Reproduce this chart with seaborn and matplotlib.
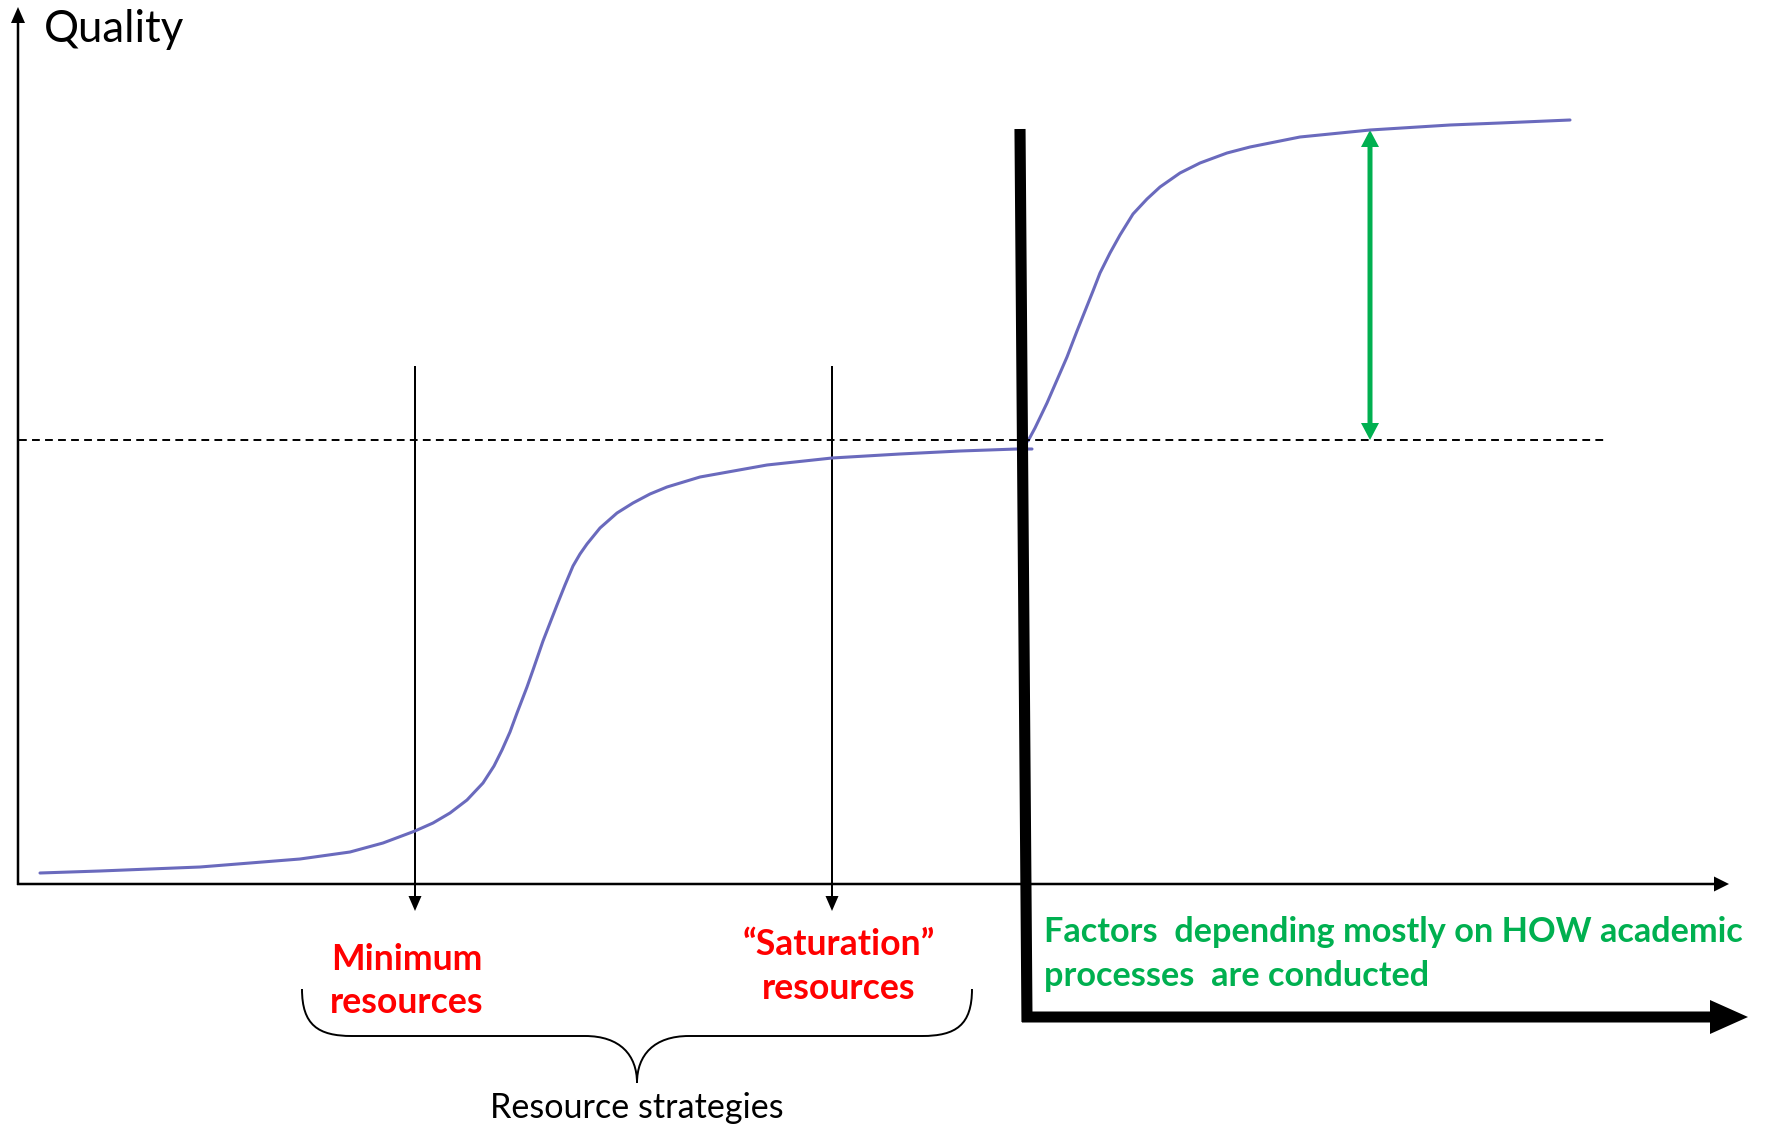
import matplotlib
matplotlib.use("Agg")
import matplotlib.pyplot as plt
from matplotlib.path import Path
from matplotlib.patches import PathPatch
import seaborn as sns

# quality curve (pixel space, y down)
curve1_x = [40, 100, 200, 300, 350, 383, 415, 433, 450, 467, 483, 494, 502, 510, 517, 527, 533, 543, 550,
            557, 565, 573, 580, 587, 600, 617, 633, 650, 667, 700, 767, 832, 900, 960, 1017, 1032]
curve1_y = [873, 871, 867, 859, 852, 843, 831, 823, 813, 800, 783, 766, 750, 732, 713, 687, 670, 641, 623,
            605, 585, 566, 554, 544, 528, 513, 503, 494, 487, 477, 465, 458, 454, 451, 449, 449]
curve2_x = [1028, 1035, 1047, 1057, 1067, 1077, 1087, 1093, 1100, 1110, 1120, 1133, 1147, 1160, 1180,
            1200, 1227, 1250, 1300, 1370, 1450, 1500, 1570]
curve2_y = [441, 428, 403, 380, 357, 331, 306, 291, 273, 253, 235, 214, 199, 187, 173,
            163, 153, 147, 137, 130, 125, 123, 120]

threshold_y = 440
strategy_x = [415, 832]
strategy_lines = [["Minimum", "resources"], ["\u201cSaturation\u201d", "resources"]]
factor_lines = ["Factors  depending mostly on HOW academic", "processes  are conducted"]

sns.set_theme(style="white")
plt.rcParams["font.family"] = ["Lato", "DejaVu Sans"]

W, H = 1766, 1127
fig = plt.figure(figsize=(W / 100, H / 100), dpi=100)
ax = fig.add_axes([0, 0, 1, 1])

curve_col = "#6a6abd"
for cx, cy in [(curve1_x, curve1_y), (curve2_x, curve2_y)]:
    sns.lineplot(x=cx, y=cy, sort=False, estimator=None, ax=ax, color=curve_col,
                 linewidth=2.2, solid_joinstyle="round", solid_capstyle="round")

# axes arrows
ax.arrow(18, 885, 0, -878, width=2.5, head_width=14, head_length=16,
         length_includes_head=True, color="black", lw=0)
ax.arrow(17, 884, 1712, 0, width=2.5, head_width=15, head_length=15,
         length_includes_head=True, color="black", lw=0)
ax.text(44, 42, "Quality", fontsize=31.5, ha="left", va="baseline", color="black")

# dashed threshold
ax.plot([19, 1607], [threshold_y, threshold_y], color="black", lw=1.4,
        linestyle=(0, (4, 2.7)))

# strategy arrows
for sx in strategy_x:
    ax.arrow(sx, 366, 0, 545, width=2, head_width=13, head_length=15,
             length_includes_head=True, color="black", lw=0)

# thick L-shaped axis
ax.plot([1020, 1027], [129, 1022], color="black", lw=8, solid_capstyle="butt")
ax.arrow(1022, 1017, 726, 0, width=11, head_width=34, head_length=38,
         length_includes_head=True, color="black", lw=0)

# green double arrow
gx = 1370
mid = (130 + threshold_y) / 2
for tip in (130, threshold_y):
    ax.arrow(gx, mid, 0, tip - mid, width=5, head_width=18, head_length=17,
             length_includes_head=True, color="#00b050", lw=0)

# red labels
red = "#ff0000"
for (l1, l2), cx, b1, b2 in zip(strategy_lines, [407, 839], [970, 955], [1013, 999]):
    ax.text(cx, b1, l1, fontsize=25.6, fontweight="bold", color=red, ha="center", va="baseline")
    ax.text(cx, b2, l2, fontsize=25.6, fontweight="bold", color=red, ha="center", va="baseline")

# brace
L, R, top, bar, tip = 302, 972, 989, 1036, 1083
C = (L + R) / 2
verts = [(L, top), (L, 1025), (318, bar), (352, bar),
         (C - 52, bar),
         (C - 17, bar), (C, 1055), (C, tip),
         (C, 1055), (C + 17, bar), (C + 52, bar),
         (R - 50, bar),
         (R - 16, bar), (R, 1025), (R, top)]
codes = [Path.MOVETO, Path.CURVE4, Path.CURVE4, Path.CURVE4,
         Path.LINETO,
         Path.CURVE4, Path.CURVE4, Path.CURVE4,
         Path.CURVE4, Path.CURVE4, Path.CURVE4,
         Path.LINETO,
         Path.CURVE4, Path.CURVE4, Path.CURVE4]
ax.add_patch(PathPatch(Path(verts, codes), fill=False, lw=1.4, edgecolor="black"))
ax.text(C, 1118, "Resource strategies", fontsize=24.6, ha="center", va="baseline", color="black")

# green factor text
for line, b in zip(factor_lines, [942, 986]):
    ax.text(1044, b, line, fontsize=24.7, fontweight="bold", color="#00b050",
            ha="left", va="baseline")

ax.set_xlim(0, W)
ax.set_ylim(H, 0)
ax.axis("off")
fig.savefig("out.png", dpi=100, facecolor="white")
